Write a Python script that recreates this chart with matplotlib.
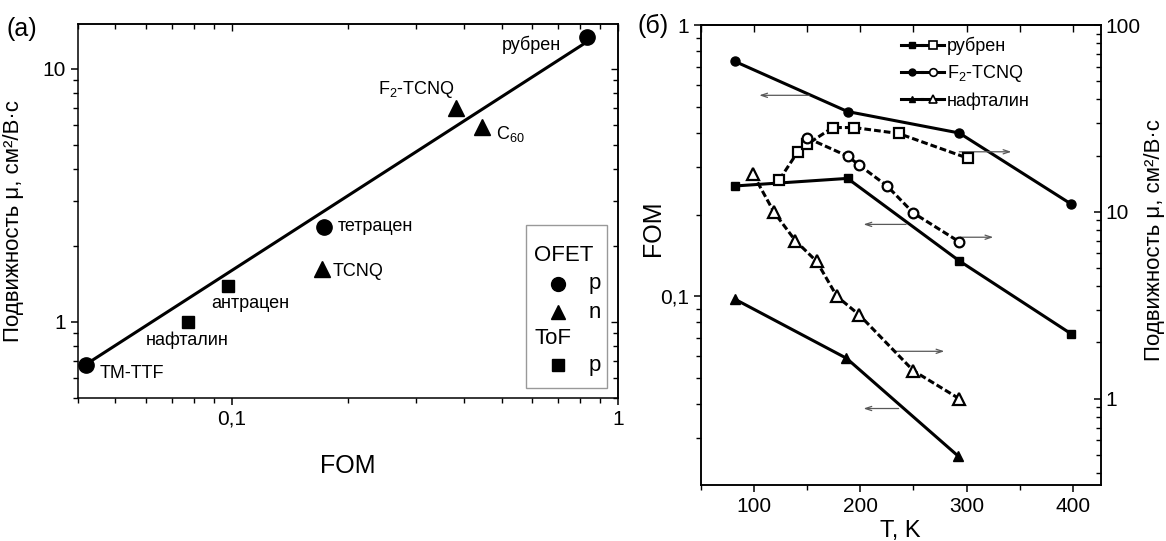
import numpy as np
import matplotlib
matplotlib.use('Agg')
import matplotlib.pyplot as plt
from matplotlib.ticker import NullFormatter, FuncFormatter, MultipleLocator
from matplotlib.lines import Line2D
from matplotlib.legend_handler import HandlerTuple
from matplotlib.patches import Rectangle

plt.rcParams['font.family'] = ['Liberation Sans', 'DejaVu Sans']
plt.rcParams['mathtext.fontset'] = 'custom'
plt.rcParams['mathtext.rm'] = 'Liberation Sans'
plt.rcParams['mathtext.default'] = 'regular'
plt.rcParams['axes.linewidth'] = 1.1

# ---- (a) mobility vs FOM ----
names = ['TM-TTF', 'нафталин', 'антрацен', 'тетрацен', 'TCNQ', 'F$_2$-TCNQ', 'C$_{60}$', 'рубрен']
fom = [0.042, 0.077, 0.098, 0.173, 0.171, 0.382, 0.446, 0.83]
mob = [0.675, 1.0, 1.39, 2.37, 1.61, 6.97, 5.88, 13.3]
kind = ['o', 's', 's', 'o', '^', '^', '^', 'o']
fit_fom = [0.042, 0.82]
fit_mob = [0.68, 12.6]

# ---- (b) FOM and mobility vs temperature ----
rub_T = [82, 188, 293, 398]
rub_fom = [0.255, 0.272, 0.135, 0.0727]
f2_T = [82, 188, 293, 398]
f2_fom = [0.735, 0.48, 0.40, 0.219]
naph_T = [82, 187, 292]
naph_fom = [0.0975, 0.059, 0.0257]

rub_Tmu = [124, 141, 150, 174, 194, 236, 301]
rub_mu = [14.9, 20.9, 23.0, 28.3, 28.3, 26.3, 19.4]
f2_Tmu = [150, 188, 199, 225, 250, 293]
f2_mu = [24.9, 19.9, 17.8, 13.8, 9.86, 6.92]
naph_Tmu = [99, 119, 139, 159, 178, 199, 250, 293]
naph_mu = [16.0, 9.94, 7.01, 5.43, 3.53, 2.81, 1.41, 1.0]

# arrows showing which axis a curve belongs to
arrow_fom = [0.551, 0.341, 0.184, 0.165, 0.0626, 0.0385]
arrow_from = [152, 293, 243, 294, 232, 236]
arrow_to = [105, 342, 203, 325, 279, 203]

comma = FuncFormatter(lambda v, p: ('%g' % v).replace('.', ','))

fig = plt.figure(figsize=(11.66, 5.41), dpi=100)
ax = fig.add_axes([0.0669, 0.2643, 0.463, 0.691])
bx = fig.add_axes([0.601, 0.1035, 0.343, 0.850])

# ---------- panel (a) ----------
ax.set_xscale('log')
ax.set_yscale('log')
ax.plot(fit_fom, fit_mob, color='k', lw=2.2, zorder=2)
sizes = {'o': 11, 's': 9, '^': 11}
for x, y, m in zip(fom, mob, kind):
    ax.plot(x, y, marker=m, color='k', ms=sizes[m], ls='none', zorder=3)

lab_off = [(10, -6), (-0.5, -13), (16, -13), (10, 0), (8, -1.5), (-29, 13.5), (10, -5), (-40, -5)]
lab_ha = ['left', 'center', 'center', 'left', 'left', 'center', 'left', 'center']
for x, y, t, off, ha in zip(fom, mob, names, lab_off, lab_ha):
    ax.annotate(t, (x, y), xytext=off, textcoords='offset points', ha=ha, va='center', fontsize=13)

ax.set_xlim(0.04, 1)
ax.set_ylim(0.5, 15)
ax.xaxis.set_major_formatter(comma)
ax.yaxis.set_major_formatter(comma)
ax.xaxis.set_minor_formatter(NullFormatter())
ax.yaxis.set_minor_formatter(NullFormatter())
ax.tick_params(which='both', direction='out', labelsize=15, top=False, right=False)
ax.tick_params(which='major', length=5, width=1.1)
ax.tick_params(which='minor', length=3.5, width=1.0)
ax.set_xlabel('FOM', fontsize=18)
ax.set_ylabel('Подвижность μ, см²/В·с', fontsize=16)
ax.xaxis.set_label_coords(0.5, -0.15)
ax.yaxis.set_label_coords(-0.1, 0.473)

for sec in (ax.secondary_xaxis('top'), ax.secondary_yaxis('right')):
    sec.tick_params(which='both', direction='in', labelsize=0, width=1.0)
    sec.tick_params(which='major', length=5)
    sec.tick_params(which='minor', length=3.5)
    for a in (sec.xaxis, sec.yaxis):
        a.set_major_formatter(NullFormatter())
        a.set_minor_formatter(NullFormatter())

# legend box of panel (a)
ax.add_patch(Rectangle((0.8296, 0.027), 0.15, 0.436, transform=ax.transAxes,
                       fill=False, edgecolor='0.6', lw=1.0, zorder=4))
ax.text(0.844, 0.38, 'OFET', transform=ax.transAxes, fontsize=16, va='center')
ax.text(0.846, 0.16, 'ToF', transform=ax.transAxes, fontsize=16, va='center')
for yy, m, t in [(0.305, 'o', 'p'), (0.23, '^', 'n'), (0.088, 's', 'p')]:
    ax.plot(0.889, yy, marker=m, color='k', ms=sizes[m] - 1, transform=ax.transAxes, clip_on=False)
    ax.text(0.946, yy, t, transform=ax.transAxes, fontsize=16, va='center')

# ---------- panel (b) ----------
bx.set_yscale('log')
for yv, x0, x1 in zip(arrow_fom, arrow_from, arrow_to):
    bx.annotate('', xy=(x1, yv), xytext=(x0, yv),
                arrowprops=dict(arrowstyle='->,head_length=0.45,head_width=0.15',
                                color='0.35', lw=0.9, shrinkA=0, shrinkB=0))
bx.plot(rub_T, rub_fom, color='k', lw=2.2, marker='s', ms=6)
bx.plot(f2_T, f2_fom, color='k', lw=2.2, marker='o', ms=6.5)
bx.plot(naph_T, naph_fom, color='k', lw=2.2, marker='^', ms=7)
bx.set_xlim(50, 426)
bx.set_ylim(0.0201, 1)
bx.xaxis.set_major_locator(MultipleLocator(100))
bx.xaxis.set_minor_locator(MultipleLocator(50))
bx.yaxis.set_major_formatter(comma)
bx.yaxis.set_minor_formatter(NullFormatter())
bx.tick_params(which='both', direction='out', labelsize=15, top=False, right=False)
bx.tick_params(which='major', length=5, width=1.1)
bx.tick_params(which='minor', length=3.5, width=1.0)
bx.set_xlabel('T, K', fontsize=17)
bx.set_ylabel('FOM', fontsize=18)
bx.xaxis.set_label_coords(0.5, -0.077)
bx.yaxis.set_label_coords(-0.089, 0.559)

top = bx.secondary_xaxis('top')
top.xaxis.set_major_locator(MultipleLocator(100))
top.xaxis.set_minor_locator(MultipleLocator(50))
top.xaxis.set_major_formatter(NullFormatter())
top.tick_params(which='both', direction='in', width=1.0)
top.tick_params(which='major', length=5)
top.tick_params(which='minor', length=5)

bx2 = bx.twinx()
bx2.set_yscale('log')
dash = (0, (2.2, 1.0))
mk = dict(mfc='white', mec='k', mew=1.6, color='k', lw=2.2, ls=dash)
bx2.plot(rub_Tmu, rub_mu, marker='s', ms=7, **mk)
bx2.plot(f2_Tmu, f2_mu, marker='o', ms=7, **mk)
bx2.plot(naph_Tmu, naph_mu, marker='^', ms=8, **mk)
bx2.set_ylim(0.345, 100)
bx2.yaxis.set_major_formatter(comma)
bx2.yaxis.set_minor_formatter(NullFormatter())
bx2.tick_params(which='both', direction='in', labelsize=15)
bx2.tick_params(which='major', length=5, width=1.1)
bx2.tick_params(which='minor', length=3.5, width=1.0)
bx2.set_ylabel('Подвижность μ, см²/В·с', fontsize=16)
bx2.yaxis.set_label_coords(1.108, 0.533)

def pair(m):
    return (Line2D([], [], color='k', lw=2.2, marker=m, ms=5, mfc='k', mec='k'),
            Line2D([], [], color='k', lw=2.2, marker=m, ms=5.5, mfc='white', mec='k', mew=1.2))

bx2.legend([pair('s'), pair('o'), pair('^')], ['рубрен', 'F$_2$-TCNQ', 'нафталин'],
           handler_map={tuple: HandlerTuple(ndivide=None, pad=0)},
           loc='upper left', bbox_to_anchor=(0.5, 0.975), frameon=False, fontsize=13,
           handlelength=2.4, handletextpad=0.15, labelspacing=0.45, borderpad=0, borderaxespad=0)

fig.text(0.006, 0.947, '(a)', fontsize=18, va='center')
fig.text(0.547, 0.952, '(б)', fontsize=18, va='center')

fig.savefig('out.png', dpi=100)
